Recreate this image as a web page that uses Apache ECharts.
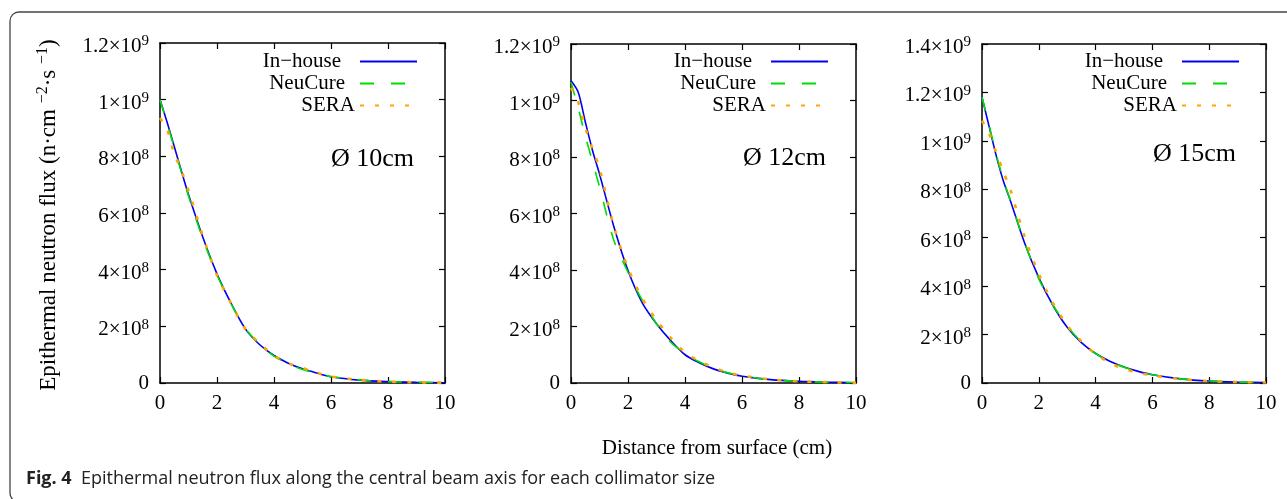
<!DOCTYPE html>
<html>
<head>
<meta charset="utf-8">
<script src="https://cdn.jsdelivr.net/npm/echarts@6/dist/echarts.min.js"></script>
<style>
html,body{margin:0;padding:0;background:#fff;}
#chart{width:1287px;height:499px;}
</style>
</head>
<body>
<div id="chart"></div>
<script>
// Distance from surface (cm)
const dist = [0,0.25,0.5,0.75,1,1.5,2,2.5,3,3.5,4,4.5,5,5.5,6,7,8,9,10];
// Flux in units of 1e9 n·cm^-2·s^-1
const inhouse10 = [1.00,0.92,0.835,0.748,0.665,0.515,0.385,0.28,0.19,0.135,0.097,0.07,0.05,0.035,0.022,0.01,0.005,0.0025,0.001];
const neucure10 = [1.00,0.915,0.83,0.745,0.66,0.51,0.382,0.278,0.192,0.137,0.095,0.068,0.048,0.034,0.023,0.011,0.005,0.0025,0.001];
const sera10    = [0.935,0.895,0.81,0.75,0.68,0.52,0.38,0.28,0.19,0.14,0.097,0.07,0.053,0.036,0.023,0.011,0.005,0.0025,0.001];

const inhouse12 = [1.07,1.03,0.925,0.825,0.74,0.555,0.398,0.284,0.21,0.15,0.10,0.072,0.05,0.035,0.024,0.012,0.006,0.003,0.001];
const neucure12 = [1.065,0.975,0.875,0.785,0.695,0.506,0.392,0.293,0.21,0.144,0.105,0.075,0.052,0.036,0.025,0.012,0.006,0.003,0.001];
const sera12    = [1.045,0.995,0.905,0.83,0.76,0.556,0.407,0.30,0.223,0.16,0.108,0.078,0.055,0.038,0.026,0.013,0.006,0.003,0.001];

const inhouse15 = [1.18,1.06,0.939,0.835,0.753,0.578,0.435,0.32,0.23,0.167,0.122,0.09,0.066,0.048,0.034,0.017,0.008,0.004,0.002];
const neucure15 = [1.18,1.065,0.945,0.84,0.755,0.58,0.43,0.322,0.235,0.17,0.122,0.09,0.065,0.047,0.034,0.017,0.008,0.004,0.002];
const sera15    = [1.083,1.03,0.952,0.873,0.798,0.604,0.45,0.33,0.238,0.172,0.119,0.084,0.058,0.043,0.031,0.016,0.008,0.004,0.002];

const seriesNames = ['In\u2212house','NeuCure','SERA'];
const panelLabels = ['\u00D8 10cm','\u00D8 12cm','\u00D8 15cm'];
const yMax = [1.2,1.2,1.4];
const panels = [
  [inhouse10, neucure10, sera10],
  [inhouse12, neucure12, sera12],
  [inhouse15, neucure15, sera15]
];

const SERIF = '"Liberation Serif","DejaVu Serif",serif';
const grids = [
  {left:160, top:43, width:285, height:340},
  {left:571, top:44, width:285, height:339},
  {left:982, top:44, width:284, height:339}
];
const colors = ['#0000ee','#00dd00','#ffa500'];
const lineTypes = ['solid',[14,17],[4,11]];
const widths = [1.6,1.6,2.6];

function yFmt(v){
  if (Math.abs(v) < 1e-9) return '{z|0}';
  if (v < 0.999) { return '{m|' + Math.round(v*10) + '\u00D710}{s|8}'; }
  const m = Math.round(v*10)/10;
  return '{m|' + m + '\u00D710}{s|9}';
}
const richY = {
  z:{fontFamily:SERIF,fontSize:21,color:'#000'},
  m:{fontFamily:SERIF,fontSize:21,lineHeight:21,padding:[7,0,0,0],color:'#000'},
  s:{fontFamily:SERIF,fontSize:15,lineHeight:15,padding:[5,0,8,0],color:'#000'}
};

const axisLine = {show:true,onZero:false,lineStyle:{color:'#000',width:1.5}};
const axisTick = {show:true,inside:true,length:6,lineStyle:{color:'#000',width:1.2}};

const xAxes=[], yAxes=[], series=[], legends=[], graphics=[];
const legendRight = [869, 458, 47];
grids.forEach((g,i)=>{
  xAxes.push({gridIndex:i,type:'value',min:0,max:10,interval:2,position:'bottom',
    axisLine,axisTick,splitLine:{show:false},
    axisLabel:{margin:10,color:'#000',fontFamily:SERIF,fontSize:21}});
  xAxes.push({gridIndex:i,type:'value',min:0,max:10,interval:2,position:'top',
    axisLine,axisTick,splitLine:{show:false},axisLabel:{show:false}});
  yAxes.push({gridIndex:i,type:'value',min:0,max:yMax[i],interval:0.2,position:'left',
    axisLine,axisTick,splitLine:{show:false},
    axisLabel:{margin:11,formatter:yFmt,rich:richY,color:'#000'}});
  yAxes.push({gridIndex:i,type:'value',min:0,max:yMax[i],interval:0.2,position:'right',
    axisLine,axisTick,splitLine:{show:false},axisLabel:{show:false}});
  panels[i].forEach((vals,k)=>{
    series.push({type:'line',name:seriesNames[k],xAxisIndex:i*2,yAxisIndex:i*2,
      data:dist.map((d,j)=>[d,vals[j]]),symbol:'none',smooth:0.3,
      lineStyle:{color:colors[k],type:lineTypes[k],width:widths[k]},
      itemStyle:{color:colors[k]},z:2+k,animation:false});
  });
  legends.push({orient:'vertical',align:'right',right:legendRight[i],top:51,padding:0,
    itemWidth:57,itemHeight:14,itemGap:1,selectedMode:false,
    itemStyle:{color:'rgba(0,0,0,0)',borderWidth:0,opacity:0},
    textStyle:{fontFamily:SERIF,fontSize:21,lineHeight:20,color:'#000'},
    data:[
      {name:seriesNames[0],textStyle:{padding:[0,14,0,0]}},
      {name:seriesNames[1],textStyle:{padding:[0,10,0,0]}},
      {name:seriesNames[2],textStyle:{padding:[0,0,0,0]}}
    ]});
});

const labelPos = [[331,159],[743,158],[1153,154]];
labelPos.forEach((p,i)=>{
  graphics.push({type:'text',x:p[0],y:p[1],style:{text:panelLabels[i],font:'26px '+SERIF,fill:'#000',verticalAlign:'middle',align:'left'}});
});
// frame
graphics.push({type:'rect',shape:{x:10,y:12,width:1300,height:490,r:9},style:{fill:'none',stroke:'#444',lineWidth:1.3},z:-1});
// y axis title
graphics.push({type:'text',x:45,y:215,rotation:Math.PI/2,
  style:{text:'{n|Epithermal neutron flux (n\u00B7cm }{s|\u22122}{n|\u00B7s }{s|\u22121}{n|)}',
  rich:{n:{fontFamily:SERIF,fontSize:23,lineHeight:22,padding:[7,0,0,0],fill:'#000'},
        s:{fontFamily:SERIF,fontSize:16,lineHeight:16,padding:[4,0,9,0],fill:'#000'}},
  align:'center',verticalAlign:'middle'}});
// x axis title
graphics.push({type:'text',x:717,y:448,style:{text:'Distance from surface (cm)',font:'21px '+SERIF,fill:'#000',align:'center',verticalAlign:'middle'}});
// caption
graphics.push({type:'text',x:26,y:479,style:{text:'{b|Fig. 4}{r|  Epithermal neutron flux along the central beam axis for each collimator size}',
  rich:{b:{fontFamily:'"Open Sans",sans-serif',fontWeight:'bold',fontSize:18,fill:'#222'},
        r:{fontFamily:'"Open Sans",sans-serif',fontSize:18,fill:'#222'}},
  verticalAlign:'middle',align:'left'}});

const chart = echarts.init(document.getElementById('chart'),null,{renderer:'canvas'});
chart.setOption({
  animation:false,
  grid:grids,
  xAxis:xAxes,
  yAxis:yAxes,
  legend:legends,
  series:series,
  graphic:graphics
});
</script>
</body>
</html>
